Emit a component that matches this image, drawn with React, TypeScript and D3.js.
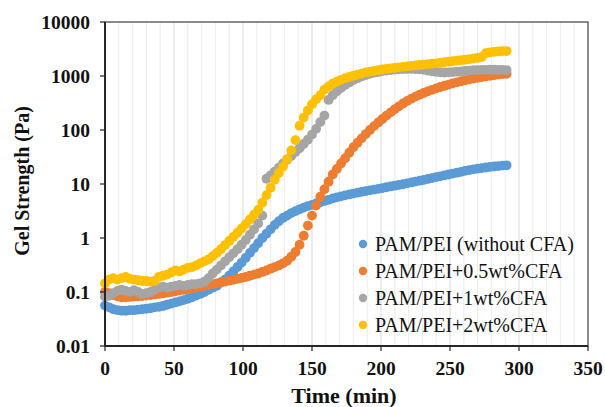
import React from "react";
import * as d3 from "d3";

const times = d3.range(0, 292, 3);

const seriesNames = [
  "PAM/PEI (without CFA)",
  "PAM/PEI+0.5wt%CFA",
  "PAM/PEI+1wt%CFA",
  "PAM/PEI+2wt%CFA",
];
const seriesColors = ["#5B9BD5", "#ED7D31", "#A5A5A5", "#FFC000"];

const blue = [
  0.056, 0.052, 0.048, 0.046, 0.045, 0.045, 0.046, 0.046, 0.047, 0.048,
  0.049, 0.05, 0.052, 0.053, 0.055, 0.058, 0.061, 0.064, 0.067, 0.071,
  0.075, 0.08, 0.086, 0.092, 0.1, 0.11, 0.12, 0.13, 0.15, 0.17,
  0.2, 0.24, 0.29, 0.35, 0.43, 0.53, 0.65, 0.8, 1.0, 1.2,
  1.45, 1.75, 2.05, 2.35, 2.6, 2.9, 3.15, 3.4, 3.65, 3.9,
  4.1, 4.35, 4.6, 4.85, 5.1, 5.4, 5.65, 5.9, 6.15, 6.4,
  6.65, 6.9, 7.15, 7.4, 7.65, 7.9, 8.15, 8.4, 8.7, 9.0,
  9.3, 9.6, 9.9, 10.3, 10.7, 11.1, 11.5, 11.9, 12.4, 12.9,
  13.4, 13.9, 14.5, 15.0, 15.6, 16.2, 16.8, 17.5, 18.1, 18.7,
  19.2, 19.7, 20.2, 20.7, 21.1, 21.5, 21.9, 22.2,
];

const orange = [
  0.1, 0.095, 0.088, 0.083, 0.08, 0.08, 0.081, 0.082, 0.083, 0.084,
  0.086, 0.088, 0.09, 0.092, 0.094, 0.097, 0.1, 0.103, 0.106, 0.11,
  0.113, 0.117, 0.121, 0.125, 0.13, 0.135, 0.14, 0.145, 0.15, 0.156,
  0.162, 0.168, 0.175, 0.182, 0.19, 0.2, 0.21, 0.22, 0.235, 0.25,
  0.27, 0.29, 0.31, 0.34, 0.38, 0.45, 0.55, 0.75, 1.1, 1.7,
  2.6, 4.0, 5.8, 8.0, 11, 15, 19, 24, 30, 38,
  48, 58, 70, 84, 100, 118, 138, 160, 185, 212,
  242, 275, 310, 345, 380, 415, 450, 485, 520, 555,
  590, 625, 660, 695, 730, 765, 800, 835, 865, 895,
  925, 955, 985, 1010, 1035, 1060, 1085, 1100,
];

const gray = [
  0.082, 0.085, 0.095, 0.105, 0.11, 0.105, 0.1, 0.108, 0.1, 0.092,
  0.095, 0.1, 0.11, 0.12, 0.125, 0.12, 0.125, 0.13, 0.135, 0.13,
  0.135, 0.14, 0.14, 0.145, 0.155, 0.18, 0.22, 0.26, 0.31, 0.37,
  0.44, 0.52, 0.62, 0.75, 0.92, 1.15, 1.45, 1.85, 2.6, 12.5,
  14.5, 17, 20, 24, 28, 33, 39, 46, 55, 66,
  82, 105, 140, 185, 360, 440, 520, 600, 680, 760,
  840, 910, 980, 1040, 1100, 1150, 1190, 1230, 1260, 1290,
  1310, 1330, 1340, 1350, 1350, 1340, 1330, 1300, 1260, 1220,
  1190, 1170, 1160, 1170, 1180, 1200, 1220, 1240, 1260, 1280,
  1290, 1300, 1300, 1310, 1310, 1300, 1300, 1290,
];

const yellow = [
  0.145, 0.17, 0.18, 0.17, 0.18, 0.19, 0.175, 0.17, 0.165, 0.16,
  0.16, 0.155, 0.16, 0.19, 0.2, 0.21, 0.23, 0.25, 0.24, 0.26,
  0.28, 0.29, 0.31, 0.34, 0.37, 0.4, 0.46, 0.53, 0.62, 0.74,
  0.88, 1.05, 1.25, 1.5, 1.8, 2.2, 2.7, 3.3, 4.5, 6.2,
  8.5, 12, 16, 21, 29, 42, 65, 120, 170, 230,
  300, 370, 440, 560, 640, 720, 790, 850, 910, 960,
  1010, 1060, 1110, 1160, 1200, 1240, 1280, 1320, 1360, 1390,
  1420, 1450, 1480, 1510, 1540, 1570, 1600, 1630, 1660, 1690,
  1720, 1760, 1800, 1840, 1880, 1920, 1960, 2000, 2050, 2100,
  2160, 2250, 2650, 2750, 2800, 2850, 2900, 2900,
];

const seriesValues = [blue, orange, gray, yellow];

const xTicks = [0, 50, 100, 150, 200, 250, 300, 350];
const yTicks = [0.01, 0.1, 1, 10, 100, 1000, 10000];
const yTickLabels = ["0.01", "0.1", "1", "10", "100", "1000", "10000"];
const minorGrid = d3.range(10, 350, 10);

const xTitle = "Time (min)";
const yTitle = "Gel Strength (Pa)";

export default function App() {
  const W = 605;
  const H = 407;
  const left = 105;
  const right = 588;
  const top = 22;
  const bottom = 346;
  const x = d3.scaleLinear().domain([0, 350]).range([left, right]);
  const y = d3.scaleLog().domain([0.01, 10000]).range([bottom, top]);
  const fontStyle = { fontFamily: '"Liberation Serif", "Times New Roman", Times, serif' };

  return (
    <svg
      width={W}
      height={H}
      style={{ position: "absolute", left: 0, top: 0, background: "#fff" }}
    >
      {minorGrid.map((t) => (
        <line
          key={"g" + t}
          x1={x(t)}
          x2={x(t)}
          y1={top}
          y2={bottom}
          stroke={t % 50 === 0 ? "#d9d9d9" : "#ececec"}
          strokeWidth={1}
        />
      ))}
      <rect
        x={left}
        y={top}
        width={right - left}
        height={bottom - top}
        fill="none"
        stroke="#404040"
        strokeWidth={1.2}
      />
      {seriesValues.map((vals, si) => (
        <g key={"s" + si} fill={seriesColors[si]}>
          {vals.map((v, i) => (
            <circle key={i} cx={x(times[i])} cy={y(v)} r={4.9} />
          ))}
        </g>
      ))}
      <line x1={left} x2={left} y1={top} y2={bottom} stroke="#262626" strokeWidth={2} />
      <line x1={left} x2={right} y1={bottom} y2={bottom} stroke="#262626" strokeWidth={2} />
      {yTicks.map((v, i) => (
        <g key={"yt" + i}>
          <line x1={left - 5} x2={left} y1={y(v)} y2={y(v)} stroke="#262626" strokeWidth={1.2} />
          <text
            x={90}
            y={y(v) + 6.5}
            textAnchor="end"
            style={fontStyle}
            fontWeight="bold"
            fontSize={19.5}
            fill="#111"
          >
            {yTickLabels[i]}
          </text>
        </g>
      ))}
      {xTicks.map((t) => (
        <g key={"xt" + t}>
          <line x1={x(t)} x2={x(t)} y1={bottom} y2={bottom + 5} stroke="#262626" strokeWidth={1.2} />
          <text
            x={x(t)}
            y={375}
            textAnchor="middle"
            style={fontStyle}
            fontWeight="bold"
            fontSize={19.5}
            fill="#111"
          >
            {t}
          </text>
        </g>
      ))}
      <text
        x={344}
        y={403}
        textAnchor="middle"
        style={fontStyle}
        fontWeight="bold"
        fontSize={22}
        fill="#111"
      >
        {xTitle}
      </text>
      <text
        transform={`translate(29,181) rotate(-90)`}
        textAnchor="middle"
        style={fontStyle}
        fontWeight="bold"
        fontSize={20}
        fill="#111"
      >
        {yTitle}
      </text>
      {seriesNames.map((name, i) => {
        const ly = 244 + i * 27;
        return (
          <g key={"lg" + i}>
            <circle cx={363} cy={ly} r={4.2} fill={seriesColors[i]} />
            <text x={375} y={ly + 7} style={fontStyle} fontSize={20} fill="#111">
              {name}
            </text>
          </g>
        );
      })}
    </svg>
  );
}
